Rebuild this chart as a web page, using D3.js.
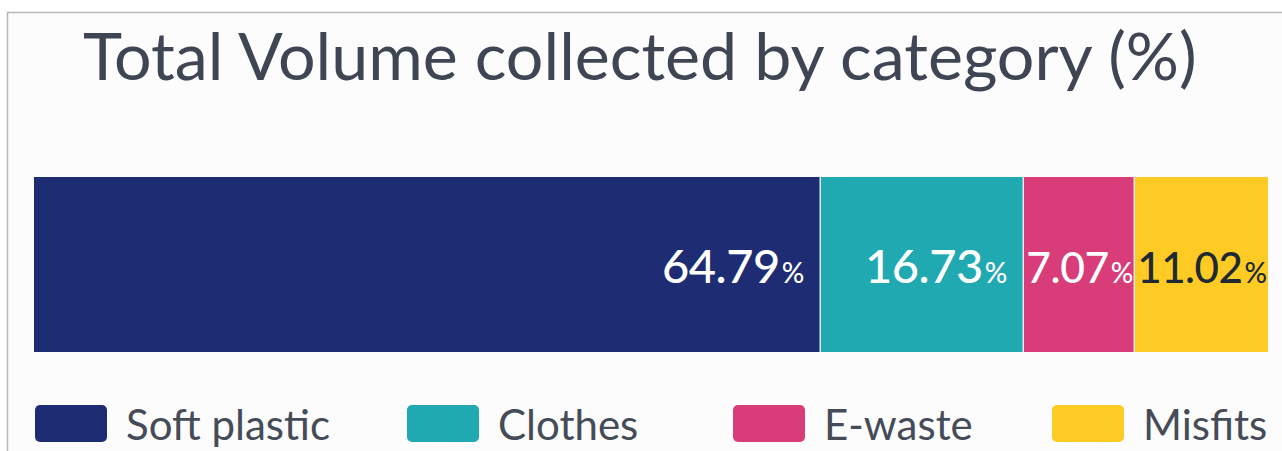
<!DOCTYPE html>
<html><head><meta charset="utf-8">
<script src="https://cdn.jsdelivr.net/npm/d3@7"></script>
<style>
html,body{margin:0;padding:0;background:#fff;}
svg{display:block;}
</style></head>
<body>
<svg id="chart" width="1282" height="451"></svg>
<script>
const title = "Total Volume collected by category (%)";
const categories = ["Soft plastic", "Clothes", "E-waste", "Misfits"];
const values = [64.79, 16.73, 7.07, 11.02];
const colors = ["#1e2d73", "#20a9b0", "#d83c79", "#fdcb24"];
const labelColors = ["#ffffff", "#ffffff", "#ffffff", "#1f2933"];

const W = 1282, H = 451;
const svg = d3.select("#chart");
const FONT = "Lato, 'Open Sans', sans-serif";

// panel background + border
svg.append("rect").attr("x", 0).attr("y", 0).attr("width", W).attr("height", H).attr("fill", "#ffffff");
svg.append("rect").attr("x", 7.5).attr("y", 12.5).attr("width", W).attr("height", H).attr("fill", "#fcfcfd")
  .attr("stroke", "#b8b8b8").attr("stroke-width", 1.5);

// title, fitted to width
const t = svg.append("text").attr("x", 83).attr("y", 80).attr("fill", "#3f4553")
  .attr("font-family", FONT).attr("font-size", 64).attr("font-weight", 400).text(title);
{
  const w = t.node().getComputedTextLength();
  t.attr("font-size", 64 * 1114 / w);
}

// stacked bar: small segments get a minimum display width so labels fit,
// the rest share the remaining width proportionally via a linear scale
const barX0 = 34, barX1 = 1268, minW = 111;
const small = values.map(v => false);
let fixedW = 0;
for (let k = 0; k < values.length; k++) {
  const freeSum = d3.sum(values.filter((v, i) => !small[i]));
  const s = d3.scaleLinear().domain([0, freeSum]).range([0, (barX1 - barX0) - fixedW]);
  values.forEach((v, i) => { if (!small[i] && s(v) < minW) { small[i] = true; fixedW += minW; } });
}
const freeSum = d3.sum(values.filter((v, i) => !small[i]));
const wScale = d3.scaleLinear().domain([0, freeSum]).range([0, (barX1 - barX0) - fixedW]);
const stack = [];
let acc = barX0;
values.forEach((v, i) => {
  const w = small[i] ? minW : wScale(v);
  stack.push({cat: categories[i], v, x0: acc, x1: acc + w, i});
  acc += w;
});

const barY = 177, barH = 175;
svg.append("g").selectAll("rect").data(stack).join("rect")
  .attr("x", d => d.x0).attr("y", barY)
  .attr("width", d => d.x1 - d.x0).attr("height", barH)
  .attr("fill", d => colors[d.i]);
// thin separators
svg.append("g").selectAll("line").data(stack.slice(1)).join("line")
  .attr("x1", d => d.x0).attr("x2", d => d.x0)
  .attr("y1", barY).attr("y2", barY + barH)
  .attr("stroke", "#e6e9f0").attr("stroke-width", 1.5);

// labels
const lg = svg.append("g");
stack.forEach(d => {
  const txt = lg.append("text").attr("y", 283).attr("fill", labelColors[d.i])
    .attr("font-family", FONT).attr("font-weight", 500).attr("font-size", 47)
    .attr("letter-spacing", -0.5);
  txt.append("tspan").text(d.v.toFixed(2));
  txt.append("tspan").attr("font-size", 28).attr("dx", 2).attr("letter-spacing", 0).text("%");
  let w = txt.node().getComputedTextLength();
  const segW = d.x1 - d.x0;
  if (w > segW - 8) {
    txt.attr("font-size", 47 * (segW - 8) / w);
    w = txt.node().getComputedTextLength();
  }
  if (w + 36 <= segW) {
    txt.attr("x", d.x1 - 18 - w);
  } else {
    txt.attr("x", (d.x0 + d.x1) / 2 - w / 2);
  }
});

// legend
const legendX = [35, 407, 733, 1052];
const leg = svg.append("g");
categories.forEach((c, i) => {
  leg.append("rect").attr("x", legendX[i]).attr("y", 405).attr("width", 72).attr("height", 37)
    .attr("rx", 5).attr("fill", colors[i]);
  leg.append("text").attr("x", legendX[i] + 91).attr("y", 440).attr("fill", "#454b57")
    .attr("font-family", FONT).attr("font-size", 42).text(c);
});
</script>
</body></html>
